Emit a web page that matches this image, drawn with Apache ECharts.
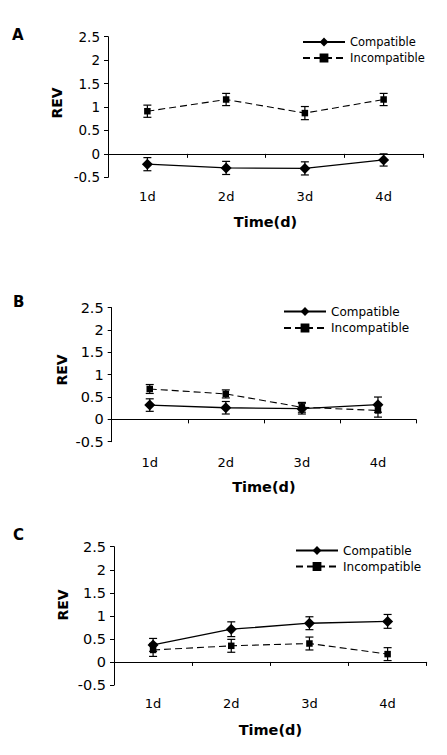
<!DOCTYPE html>
<html>
<head>
<meta charset="utf-8">
<script src="https://cdn.jsdelivr.net/npm/echarts@6/dist/echarts.min.js"></script>
<style>
html,body{margin:0;padding:0;background:#fff;}
#chart{width:447px;height:755px;}
</style>
</head>
<body>
<div id="chart"></div>
<script>
const categories = ['1d', '2d', '3d', '4d'];
const panelLabels = ['A', 'B', 'C'];
const seriesNames = ['Compatible', 'Incompatible'];
const yMin = -0.5, yMax = 2.5, yStep = 0.5;

// Panel A
const compA = [-0.22, -0.30, -0.31, -0.13];
const compAErr = [0.14, 0.14, 0.14, 0.13];
const incA = [0.91, 1.16, 0.87, 1.16];
const incAErr = [0.13, 0.13, 0.14, 0.13];
// Panel B
const compB = [0.32, 0.26, 0.24, 0.33];
const compBErr = [0.14, 0.14, 0.12, 0.17];
const incB = [0.68, 0.57, 0.27, 0.20];
const incBErr = [0.10, 0.09, 0.11, 0.15];
// Panel C
const compC = [0.37, 0.71, 0.84, 0.88];
const compCErr = [0.14, 0.16, 0.14, 0.15];
const incC = [0.26, 0.35, 0.40, 0.17];
const incCErr = [0.14, 0.14, 0.14, 0.14];

const panels = [
  {comp: compA, compErr: compAErr, inc: incA, incErr: incAErr},
  {comp: compB, compErr: compBErr, inc: incB, incErr: incBErr},
  {comp: compC, compErr: compCErr, inc: incC, incErr: incCErr}
];

// layout (positions/sizes/styles)
const FONT = 'DejaVu Sans';
const layout = [
  {grid: {left: 108, top: 36.7, width: 315, height: 140.6}, labelMargin: 13, nameGap: 37, yFont: 13.5, xFont: 13,
   legend: {left: 302, top: 36, itemGap: 4, font: 11.5}, rev: [57, 103], letter: [12, 27]},
  {grid: {left: 111.7, top: 307.7, width: 304.3, height: 134}, labelMargin: 14, nameGap: 38, yFont: 14.5, xFont: 13,
   legend: {left: 283, top: 305.5, itemGap: 4.5, font: 12}, rev: [61.7, 370], letter: [13, 294]},
  {grid: {left: 114, top: 546.7, width: 312.7, height: 138.3}, labelMargin: 12, nameGap: 37, yFont: 14.5, xFont: 13,
   legend: {left: 295, top: 544.5, itemGap: 4, font: 12}, rev: [63.3, 605], letter: [13, 527]}
];

const grids = [], xAxes = [], yAxes = [], series = [], legends = [], graphics = [];

function errRender(params, api) {
  const x = api.value(0);
  const lo = api.coord([x, api.value(1)]);
  const hi = api.coord([x, api.value(2)]);
  const w = 4;
  const st = {stroke: '#000', lineWidth: 1.2};
  return {
    type: 'group',
    children: [
      {type: 'line', shape: {x1: hi[0], y1: hi[1], x2: lo[0], y2: lo[1]}, style: st},
      {type: 'line', shape: {x1: hi[0] - w, y1: hi[1], x2: hi[0] + w, y2: hi[1]}, style: st},
      {type: 'line', shape: {x1: lo[0] - w, y1: lo[1], x2: lo[0] + w, y2: lo[1]}, style: st}
    ]
  };
}

panels.forEach((p, i) => {
  const L = layout[i];
  grids.push(Object.assign({containLabel: false}, L.grid));
  // axis line at zero, with boundary ticks
  xAxes.push({
    type: 'category', gridIndex: i, data: categories, boundaryGap: true,
    axisLine: {show: true, onZero: true, lineStyle: {color: '#000', width: 1}},
    axisTick: {show: true, length: 4, lineStyle: {color: '#000'}},
    axisLabel: {show: false}, splitLine: {show: false}
  });
  // label axis at bottom
  xAxes.push({
    type: 'category', gridIndex: i, data: categories, boundaryGap: true, position: 'bottom',
    axisLine: {show: false, onZero: false}, axisTick: {show: false},
    axisLabel: {show: true, margin: L.labelMargin, color: '#000', fontFamily: FONT, fontSize: L.xFont},
    name: 'Time(d)', nameLocation: 'middle', nameGap: L.nameGap,
    nameTextStyle: {color: '#000', fontFamily: FONT, fontSize: 14.5, fontWeight: 'bold'},
    splitLine: {show: false}
  });
  yAxes.push({
    type: 'value', gridIndex: i, min: yMin, max: yMax, interval: yStep,
    axisLine: {show: true, onZero: false, lineStyle: {color: '#000', width: 1}},
    axisTick: {show: true, length: 4, lineStyle: {color: '#000'}},
    axisLabel: {color: '#000', fontFamily: FONT, fontSize: L.yFont, margin: 8},
    splitLine: {show: false}
  });
  const xi = i * 2, yi = i;
  series.push({
    name: seriesNames[0], type: 'line', xAxisIndex: xi, yAxisIndex: yi, data: p.comp,
    symbol: 'diamond', symbolSize: 11, color: '#000',
    lineStyle: {color: '#000', width: 1.3, type: 'solid'},
    itemStyle: {color: '#000'}, z: 3
  });
  series.push({
    name: seriesNames[1], type: 'line', xAxisIndex: xi, yAxisIndex: yi, data: p.inc,
    symbol: 'rect', symbolSize: 6.5, color: '#000',
    lineStyle: {color: '#000', width: 1.1, type: [7, 4]},
    itemStyle: {color: '#000'}, z: 3
  });
  series.push({
    name: 'errC' + i, type: 'custom', xAxisIndex: xi, yAxisIndex: yi,
    renderItem: errRender,
    data: p.comp.map((v, k) => [k, v - p.compErr[k], v + p.compErr[k]]), z: 2
  });
  series.push({
    name: 'errI' + i, type: 'custom', xAxisIndex: xi, yAxisIndex: yi,
    renderItem: errRender,
    data: p.inc.map((v, k) => [k, v - p.incErr[k], v + p.incErr[k]]), z: 2
  });
  legends.push({
    data: seriesNames, orient: 'vertical', left: L.legend.left, top: L.legend.top,
    padding: 0, itemWidth: 42, itemHeight: 11, itemGap: L.legend.itemGap,
    textStyle: {color: '#000', fontFamily: FONT, fontSize: L.legend.font},
    selectedMode: false
  });
  graphics.push({
    type: 'text', left: L.letter[0], top: L.letter[1],
    style: {text: panelLabels[i], fill: '#000', font: 'bold 15px "' + FONT + '"'}
  });
  graphics.push({
    type: 'text', x: L.rev[0], y: L.rev[1], rotation: Math.PI / 2,
    style: {text: 'REV', fill: '#000', font: 'bold 14px "' + FONT + '"', textAlign: 'center', textVerticalAlign: 'middle'}
  });
});

const chart = echarts.init(document.getElementById('chart'), null, {renderer: 'svg'});
chart.setOption({
  animation: false,
  backgroundColor: '#fff',
  grid: grids, xAxis: xAxes, yAxis: yAxes, series: series, legend: legends,
  graphic: graphics
});
</script>
</body>
</html>
